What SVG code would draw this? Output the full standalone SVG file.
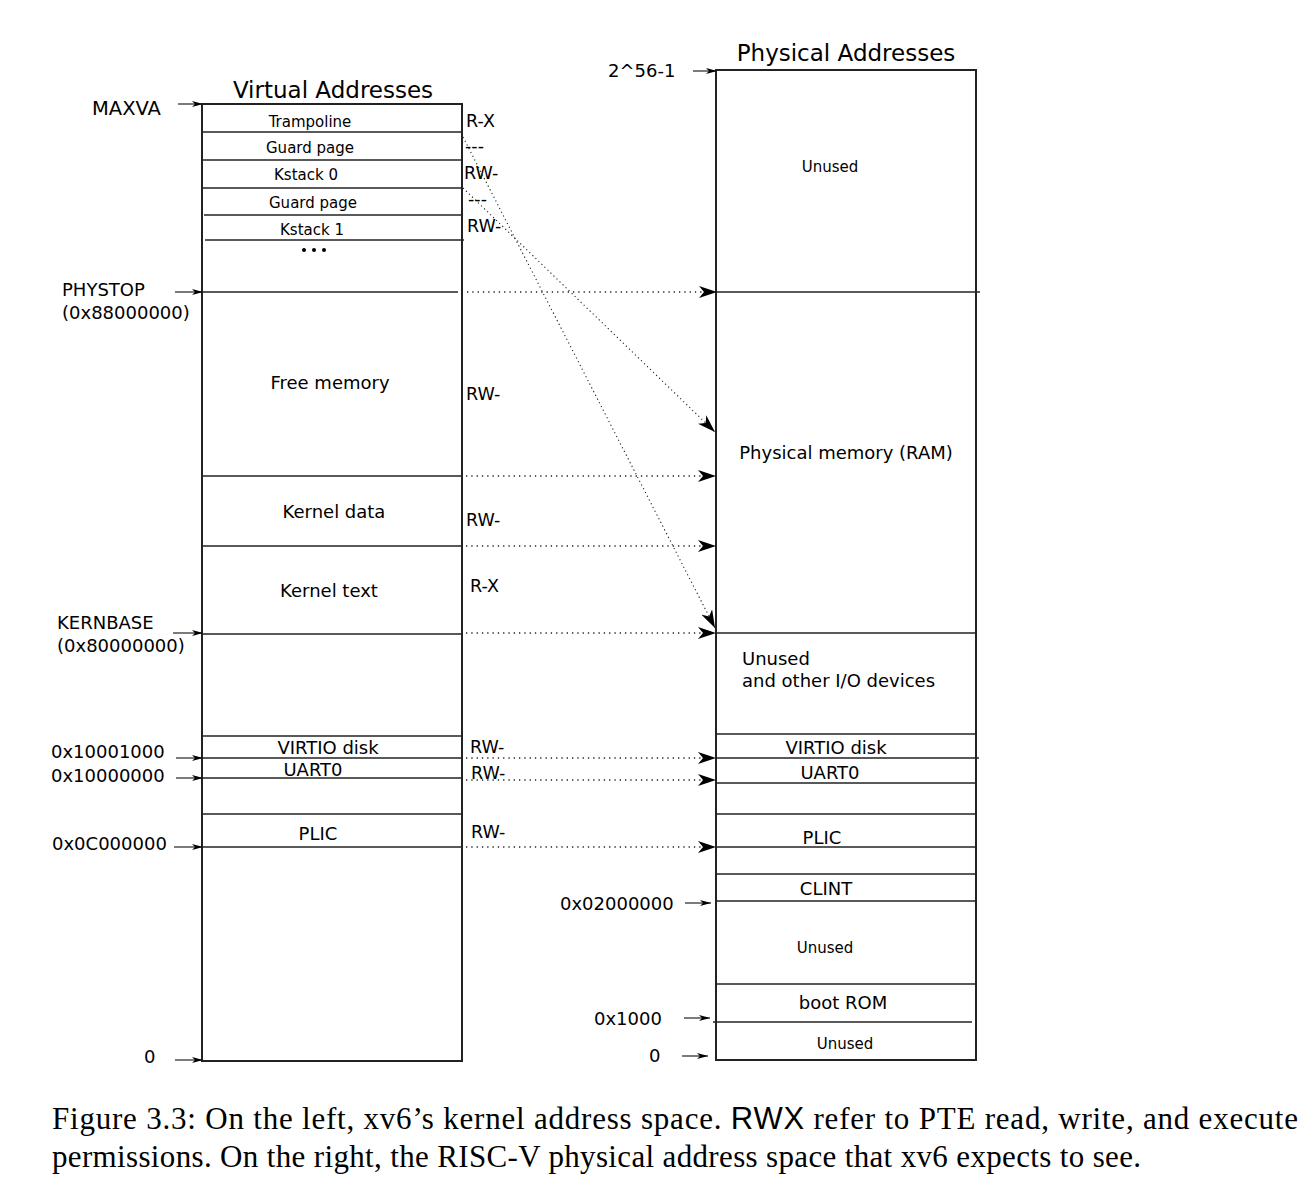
<svg xmlns="http://www.w3.org/2000/svg" width="1311" height="1186" viewBox="0 0 1311 1186">
<style>
.box{fill:none;stroke:#222;stroke-width:2}
.ln{stroke:#222;stroke-width:1.4;fill:none}
.t{font-family:"DejaVu Sans","Liberation Sans",sans-serif;fill:#000}
.m{font-size:18px}
.s{font-size:15px}
.p{font-size:17.5px}
.h{font-size:23px}
.c{text-anchor:middle}
.dot{stroke:#222;stroke-width:1.4;stroke-dasharray:1.3 4;fill:none;marker-end:url(#big)}
.dia{stroke:#222;stroke-width:1.1;stroke-dasharray:1.2 3;fill:none;marker-end:url(#big)}
.adr{stroke:#222;stroke-width:1.2;fill:none;marker-end:url(#sm)}
.cap{font-family:"Liberation Serif","Times New Roman",serif;font-size:31px;fill:#000}
.sans{font-family:"Liberation Sans",Arial,sans-serif}
</style>
<defs>
<marker id="big" viewBox="0 0 18 12" refX="18" refY="6" markerWidth="18" markerHeight="12" markerUnits="userSpaceOnUse" orient="auto">
<path d="M0,0 L18,6 L0,12 L5,6 Z" fill="#000"/>
</marker>
<marker id="sm" viewBox="0 0 11 6" refX="11" refY="3" markerWidth="11" markerHeight="6" markerUnits="userSpaceOnUse" orient="auto">
<path d="M0,0 L11,3 L0,6 L3,3 Z" fill="#000"/>
</marker>
</defs>

<g id="virtual">
<text class="t h c" x="333" y="98">Virtual Addresses</text>
<rect class="box" x="202" y="104" width="260" height="957"/>
<g id="v-trampoline"><line class="ln" x1="202" y1="132" x2="462" y2="132"/><text class="t s c" x="310" y="127">Trampoline</text><text class="t p" x="466" y="127">R-X</text></g>
<g id="v-guard0"><line class="ln" x1="202" y1="160" x2="462" y2="160"/><text class="t s c" x="310" y="153">Guard page</text><text class="t p" x="465" y="152">---</text></g>
<g id="v-kstack0"><line class="ln" x1="202" y1="188" x2="462" y2="188"/><text class="t s c" x="306" y="180">Kstack 0</text><text class="t p" x="464" y="179">RW-</text></g>
<g id="v-guard1"><line class="ln" x1="204" y1="215" x2="462" y2="215"/><text class="t s c" x="313" y="208">Guard page</text><text class="t p" x="468" y="205">---</text></g>
<g id="v-kstack1"><line class="ln" x1="205" y1="240" x2="464" y2="240"/><text class="t s c" x="312" y="235">Kstack 1</text><text class="t p" x="467" y="232">RW-</text>
<circle cx="304" cy="250" r="2"/><circle cx="314" cy="250" r="2"/><circle cx="324" cy="250" r="2"/></g>
<g id="v-free"><line class="ln" x1="202" y1="292" x2="458" y2="292"/><text class="t m c" x="330" y="389">Free memory</text><text class="t p" x="466" y="400">RW-</text></g>
<g id="v-kdata"><line class="ln" x1="202" y1="476" x2="462" y2="476"/><text class="t m c" x="334" y="518">Kernel data</text><text class="t p" x="466" y="526">RW-</text></g>
<g id="v-ktext"><line class="ln" x1="202" y1="546" x2="462" y2="546"/><text class="t m c" x="329" y="597">Kernel text</text><text class="t p" x="470" y="592">R-X</text></g>
<g id="v-kernbase"><line class="ln" x1="202" y1="634" x2="462" y2="634"/></g>
<g id="v-virtio"><line class="ln" x1="202" y1="736" x2="462" y2="736"/><line class="ln" x1="202" y1="758" x2="462" y2="758"/><text class="t m c" x="328" y="754">VIRTIO disk</text><text class="t p" x="470" y="753">RW-</text></g>
<g id="v-uart"><line class="ln" x1="202" y1="778" x2="462" y2="778"/><text class="t m c" x="313" y="776">UART0</text><text class="t p" x="471" y="779">RW-</text></g>
<g id="v-plic"><line class="ln" x1="202" y1="814" x2="462" y2="814"/><line class="ln" x1="202" y1="847" x2="462" y2="847"/><text class="t m c" x="318" y="840">PLIC</text><text class="t p" x="471" y="838">RW-</text></g>
</g>

<g id="virtual-labels">
<text class="t" x="92" y="115" style="font-size:19.5px">MAXVA</text>
<text class="t m" x="62" y="296">PHYSTOP</text>
<text class="t m" x="62" y="319">(0x88000000)</text>
<text class="t m" x="57" y="629">KERNBASE</text>
<text class="t m" x="57" y="652">(0x80000000)</text>
<text class="t m" x="51" y="758">0x10001000</text>
<text class="t m" x="51" y="782">0x10000000</text>
<text class="t m" x="52" y="850">0x0C000000</text>
<text class="t m" x="144" y="1063">0</text>
</g>

<g id="physical">
<text class="t h c" x="846" y="61">Physical Addresses</text>
<rect class="box" x="716" y="70" width="260" height="990"/>
<g id="p-unused-top"><text class="t s c" x="830" y="172">Unused</text></g>
<g id="p-ram"><line class="ln" x1="716" y1="292" x2="980" y2="292"/><text class="t m c" x="846" y="459">Physical memory (RAM)</text></g>
<g id="p-io"><line class="ln" x1="716" y1="633" x2="976" y2="633"/><text class="t m" x="742" y="665">Unused</text><text class="t m" x="742" y="687">and other I/O devices</text></g>
<g id="p-virtio"><line class="ln" x1="716" y1="734" x2="976" y2="734"/><line class="ln" x1="716" y1="758" x2="979" y2="758"/><text class="t m c" x="836" y="754">VIRTIO disk</text></g>
<g id="p-uart"><line class="ln" x1="716" y1="783" x2="976" y2="783"/><text class="t m c" x="830" y="779">UART0</text></g>
<g id="p-plic"><line class="ln" x1="716" y1="814" x2="976" y2="814"/><line class="ln" x1="716" y1="847" x2="976" y2="847"/><text class="t m c" x="822" y="844">PLIC</text></g>
<g id="p-clint"><line class="ln" x1="716" y1="874" x2="976" y2="874"/><line class="ln" x1="716" y1="901" x2="976" y2="901"/><text class="t m c" x="826" y="895">CLINT</text></g>
<g id="p-unused-mid"><text class="t s c" x="825" y="953">Unused</text></g>
<g id="p-bootrom"><line class="ln" x1="716" y1="984" x2="976" y2="984"/><line class="ln" x1="713" y1="1022" x2="972" y2="1022"/><text class="t m c" x="843" y="1009">boot ROM</text></g>
<g id="p-unused-bot"><text class="t s c" x="845" y="1049">Unused</text></g>
</g>

<g id="physical-labels">
<text class="t m" x="608" y="77">2^56-1</text>
<text class="t m" x="560" y="910">0x02000000</text>
<text class="t m" x="594" y="1025">0x1000</text>
<text class="t m" x="649" y="1062">0</text>
</g>

<g id="connectors">
<line class="adr" x1="178" y1="104" x2="203" y2="104"/>
<line class="adr" x1="175" y1="292" x2="203" y2="292"/>
<line class="adr" x1="173" y1="633" x2="203" y2="633"/>
<line class="adr" x1="176" y1="758" x2="203" y2="758"/>
<line class="adr" x1="176" y1="778" x2="203" y2="778"/>
<line class="adr" x1="174" y1="847" x2="203" y2="847"/>
<line class="adr" x1="175" y1="1060" x2="203" y2="1060"/>
<line class="adr" x1="693" y1="71" x2="717" y2="71"/>
<line class="adr" x1="685" y1="903" x2="711" y2="903"/>
<line class="adr" x1="684" y1="1018" x2="710" y2="1018"/>
<line class="adr" x1="682" y1="1056" x2="708" y2="1056"/>
<line class="dot" x1="467" y1="292" x2="717" y2="292"/>
<line class="dot" x1="466" y1="476" x2="716" y2="476"/>
<line class="dot" x1="466" y1="546" x2="716" y2="546"/>
<line class="dot" x1="466" y1="633" x2="716" y2="633"/>
<line class="dot" x1="466" y1="758" x2="716" y2="758"/>
<line class="dot" x1="466" y1="780" x2="716" y2="780"/>
<line class="dot" x1="466" y1="847" x2="716" y2="847"/>
<line class="dia" x1="463" y1="137" x2="715" y2="628"/>
<line class="dia" x1="463" y1="188" x2="715" y2="432"/>
</g>

<g id="caption">
<text class="cap" x="52" y="1129" textLength="1246" lengthAdjust="spacing">Figure 3.3: On the left, xv6’s kernel address space. <tspan class="sans">RWX</tspan> refer to PTE read, write, and execute</text>
<text class="cap" x="52" y="1167" textLength="1089" lengthAdjust="spacing">permissions. On the right, the RISC-V physical address space that xv6 expects to see.</text>
</g>
</svg>
